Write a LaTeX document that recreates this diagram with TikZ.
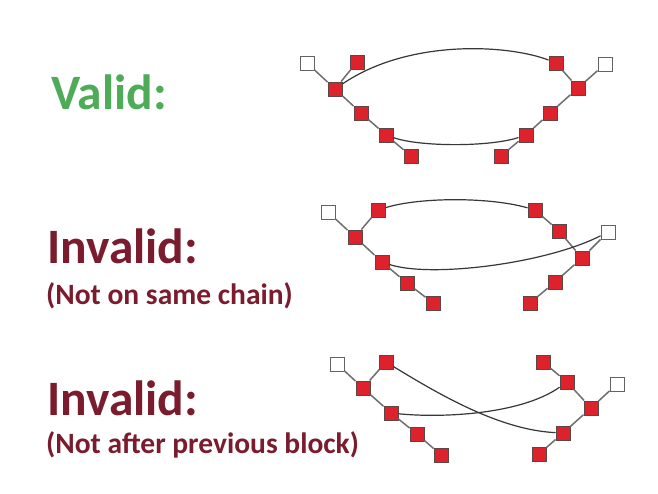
\documentclass[tikz,border=0pt]{standalone}
\usepackage{fontspec}
\setmainfont{Carlito}
\definecolor{okgreen}{RGB}{78,172,88}
\definecolor{badred}{RGB}{122,28,46}
\definecolor{blockred}{RGB}{222,34,44}
\definecolor{blockedge}{RGB}{95,70,70}
\definecolor{linkgray}{RGB}{110,110,110}
\definecolor{arcgray}{RGB}{55,55,55}
\tikzset{
  blk/.style={draw=blockedge, line width=0.9pt, minimum size=14pt, inner sep=0pt, fill=blockred},
  gen/.style={blk, draw=linkgray!90!black, fill=white},
  link/.style={draw=linkgray, line width=1.5pt},
  arc/.style={draw=arcgray, line width=1.2pt},
  head/.style={anchor=base west, inner sep=0pt, font=\fontsize{49.5}{49.5}\selectfont\bfseries},
  sub/.style={anchor=base west, inner sep=0pt, font=\fontsize{29.5}{29.5}\selectfont\bfseries, text=badred},
}
\begin{document}
\begin{tikzpicture}[x=1pt,y=-1pt]
\useasboundingbox[fill=white] (0,0) rectangle (658,494);

% labels
\node[head, text=okgreen] (t1) at (51,110) {Valid:};
\node[head, text=badred] (t2) at (47,263) {Invalid:};
\node[sub] (s2) at (46,304) {(Not on same chain)};
\node[head, text=badred] (t3) at (47,415) {Invalid:};
\node[sub] (s3) at (46,453) {(Not after previous block)};

% ---- first pair of chains ----
\node[gen] (aLg) at (307,63) {};
\node[blk] (aLt) at (357,62) {};
\node[blk] (aLh) at (335,89) {};
\node[blk] (aL1) at (361,113) {};
\node[blk] (aL2) at (386,135) {};
\node[blk] (aL3) at (411,156) {};
\node[blk] (aRt) at (556,63) {};
\node[gen] (aRg) at (605,64) {};
\node[blk] (aRh) at (578,88) {};
\node[blk] (aR1) at (550,113) {};
\node[blk] (aR2) at (526,135) {};
\node[blk] (aR3) at (501,156) {};
\draw[link] (aLg) -- (aLh) (aLt) -- (aLh) (aLh) -- (aL1) -- (aL2) -- (aL3);
\draw[link] (aRg) -- (aRh) (aRt) -- (aRh) (aRh) -- (aR1) -- (aR2) -- (aR3);
\draw[arc] (aLh) .. controls (410,38) and (510,45) .. (aRt);
\draw[arc] (aL2) .. controls (420,147) and (490,147) .. (aR2);

% ---- second pair of chains ----
\node[gen] (bLg) at (328,212) {};
\node[blk] (bLt) at (378,210) {};
\node[blk] (bLh) at (355,237) {};
\node[blk] (bL1) at (382,262) {};
\node[blk] (bL2) at (407,283) {};
\node[blk] (bL3) at (433,303) {};
\node[blk] (bRt) at (535,210) {};
\node[blk] (bR0) at (559,231) {};
\node[gen] (bRg) at (608,232) {};
\node[blk] (bRh) at (582,258) {};
\node[blk] (bR1) at (555,282) {};
\node[blk] (bR2) at (530,303) {};
\draw[link] (bLg) -- (bLh) (bLt) -- (bLh) (bLh) -- (bL1) -- (bL2) -- (bL3);
\draw[link] (bRt) -- (bR0) -- (bRh) (bRg) -- (bRh) (bRh) -- (bR1) -- (bR2);
\draw[arc] (bLt) .. controls (420,197) and (490,197) .. (bRt);
\draw[arc] (bL1) .. controls (430,278) and (545,264) .. (bRg);

% ---- third pair of chains ----
\node[gen] (cLg) at (337,364) {};
\node[blk] (cLt) at (386,362) {};
\node[blk] (cLh) at (363,388) {};
\node[blk] (cL1) at (391,413) {};
\node[blk] (cL2) at (417,434) {};
\node[blk] (cL3) at (441,455) {};
\node[blk] (cRt) at (543,362) {};
\node[blk] (cR0) at (567,382) {};
\node[gen] (cRg) at (617,384) {};
\node[blk] (cRh) at (591,408) {};
\node[blk] (cR1) at (563,433) {};
\node[blk] (cR2) at (539,454) {};
\draw[link] (cLg) -- (cLh) (cLt) -- (cLh) (cLh) -- (cL1) -- (cL2) -- (cL3);
\draw[link] (cRt) -- (cR0) -- (cRh) (cRg) -- (cRh) (cRh) -- (cR1) -- (cR2);
\draw[arc] (cLt) .. controls (440,395) and (500,430) .. (cR1);
\draw[arc] (cL1) .. controls (440,418) and (520,415) .. (cR0);
\end{tikzpicture}
\end{document}
